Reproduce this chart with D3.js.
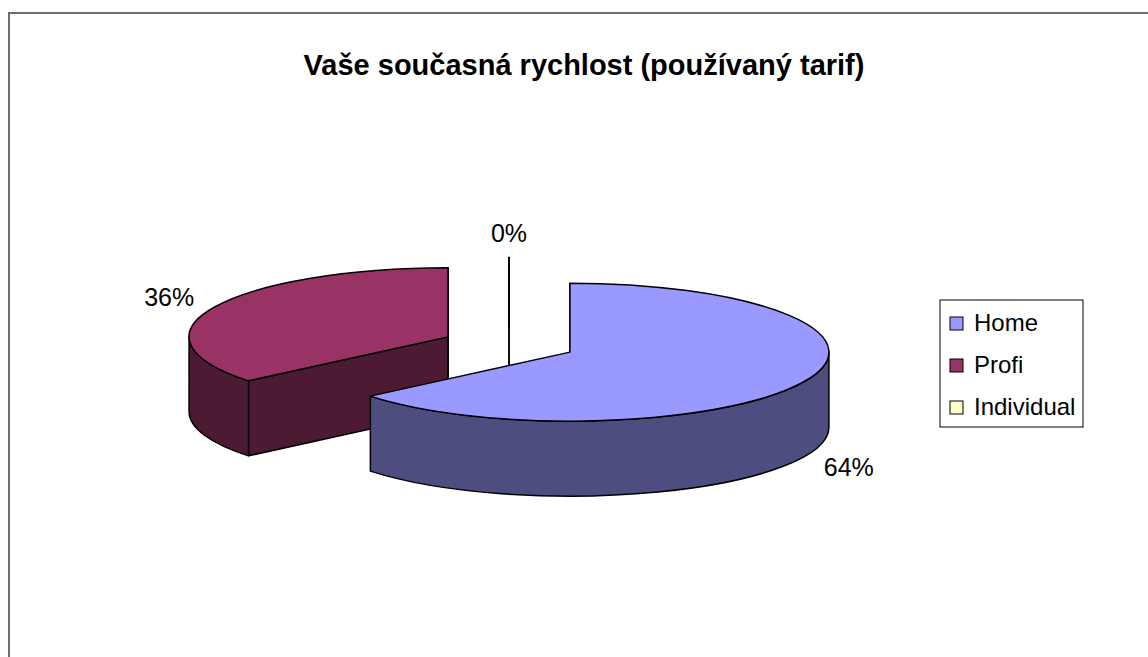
<!DOCTYPE html>
<html>
<head>
<meta charset="utf-8">
<script src="https://cdn.jsdelivr.net/npm/d3@7"></script>
<style>
  body { margin: 0; background: #fff; }
  text { font-family: "Liberation Sans", Arial, sans-serif; }
</style>
</head>
<body>
<div id="chart"></div>
<script>
// data
var categories = ["Home", "Profi", "Individual"];
var values = [64, 36, 0];
var labels = ["64%", "36%", "0%"];
var topColors = ["#9999ff", "#993366", "#ffffcc"];
var sideColors = ["#4d4d80", "#4d1a33", "#80806a"];
var title = "Vaše současná rychlost (používaný tarif)";

var W = 1148, H = 657;

var svg = d3.select("#chart")
  .append("svg")
  .attr("width", W)
  .attr("height", H);

// outer frame, runs off the right and bottom
svg.append("rect")
  .attr("x", 9).attr("y", 13)
  .attr("width", W + 20).attr("height", H + 20)
  .attr("fill", "#fff")
  .attr("stroke", "#6e6e6e")
  .attr("stroke-width", 2);

svg.append("text")
  .attr("x", 584).attr("y", 75)
  .attr("text-anchor", "middle")
  .attr("font-size", 29)
  .attr("font-weight", "bold")
  .text(title);

// 3d pie geometry
var cx0 = 509, cy0 = 344.5, rx = 259, ry = 69, depth = 75, explode = 0.26;

var pie = d3.pie().sort(null).value(function (d) { return d; });
var arcs = pie(values);

function pt(c, a, dy) {
  return [c[0] + rx * Math.sin(a), c[1] - ry * Math.cos(a) + (dy || 0)];
}

arcs.forEach(function (d, i) {
  var mid = (d.startAngle + d.endAngle) / 2;
  d.i = i;
  d.mid = mid;
  d.c = [cx0 + explode * rx * Math.sin(mid), cy0 - explode * ry * Math.cos(mid)];
});

// back to front
var order = arcs.slice().sort(function (a, b) { return a.c[1] - b.c[1]; });

var g = svg.append("g")
  .attr("stroke", "#000")
  .attr("stroke-width", 1.5)
  .attr("stroke-linejoin", "round");

order.forEach(function (d) {
  var a0 = d.startAngle, a1 = d.endAngle, c = d.c;

  // cut faces
  [[a0, -1], [a1, 1]].forEach(function (f) {
    var s = Math.sin(f[0]) * f[1];
    if (s > 1e-9 || Math.abs(s) <= 1e-9) {
      var p = d3.path();
      var e = pt(c, f[0]);
      p.moveTo(c[0], c[1]);
      p.lineTo(e[0], e[1]);
      p.lineTo(e[0], e[1] + depth);
      p.lineTo(c[0], c[1] + depth);
      p.closePath();
      g.append("path")
        .attr("d", p.toString())
        .attr("fill", sideColors[d.i]);
    }
  });

  // outer side, only the front half shows
  var s0 = Math.max(a0, Math.PI / 2), s1 = Math.min(a1, 3 * Math.PI / 2);
  if (s1 > s0) {
    var p0 = pt(c, s0), p1 = pt(c, s1);
    var large = (s1 - s0) > Math.PI ? 1 : 0;
    var side = "M" + p0 + "A" + rx + "," + ry + " 0 " + large + " 1 " + p1 +
      "L" + p1[0] + "," + (p1[1] + depth) +
      "A" + rx + "," + ry + " 0 " + large + " 0 " + p0[0] + "," + (p0[1] + depth) + "Z";
    g.append("path")
      .attr("d", side)
      .attr("fill", sideColors[d.i]);
  }

  // top face
  var t0 = pt(c, a0), t1 = pt(c, a1);
  var big = (a1 - a0) > Math.PI ? 1 : 0;
  var top = "M" + c + "L" + t0 +
    (a1 - a0 > 0 ? "A" + rx + "," + ry + " 0 " + big + " 1 " + t1 : "") + "Z";
  g.append("path")
    .attr("d", top)
    .attr("fill", topColors[d.i]);
});

// data labels
arcs.forEach(function (d) {
  var front = Math.cos(d.mid) < 0 ? depth : 0;
  svg.append("text")
    .attr("x", d.c[0] + 1.19 * rx * Math.sin(d.mid))
    .attr("y", d.c[1] - 1.35 * ry * Math.cos(d.mid) + front)
    .attr("text-anchor", "middle")
    .attr("dominant-baseline", "central")
    .attr("font-size", 25)
    .text(labels[d.i]);
});

// legend
var lg = svg.append("g").attr("transform", "translate(940,300)");
lg.append("rect")
  .attr("width", 143).attr("height", 127)
  .attr("fill", "#fff")
  .attr("stroke", "#000")
  .attr("stroke-width", 1);

var yLeg = d3.scalePoint().domain(categories).range([23, 107]);

categories.forEach(function (name, i) {
  lg.append("rect")
    .attr("x", 10).attr("y", yLeg(name) - 6)
    .attr("width", 13).attr("height", 13)
    .attr("fill", topColors[i])
    .attr("stroke", "#000")
    .attr("stroke-width", 1);
  lg.append("text")
    .attr("x", 34).attr("y", yLeg(name) + 8)
    .attr("font-size", 24)
    .text(name);
});
</script>
</body>
</html>
